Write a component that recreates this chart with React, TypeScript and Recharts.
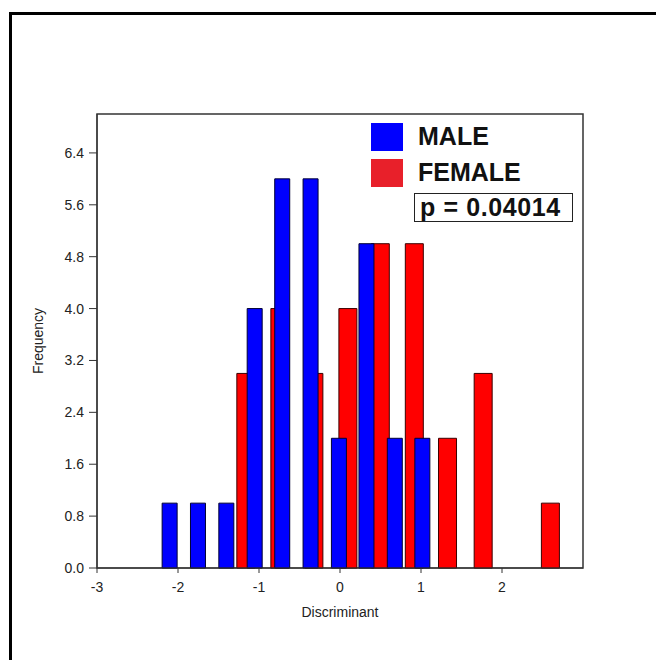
import React from 'react';
import { ComposedChart, Bar, XAxis, YAxis, Legend, ReferenceArea } from 'recharts';

// bin centres (Discriminant units)
const maleBins = [-2.1, -1.75, -1.4, -1.05, -0.71, -0.36, -0.01, 0.33, 0.68, 1.02];
const maleCounts = [1, 1, 1, 4, 6, 6, 2, 5, 2, 2];
const femaleBins = [-1.16, -0.74, -0.32, 0.1, 0.5, 0.92, 1.33, 1.77, 2.19, 2.6];
const femaleCounts = [3, 4, 3, 4, 5, 5, 2, 3, 0, 1];

const xTicks = [-3, -2, -1, 0, 1, 2];
const yTicks = [0, 0.8, 1.6, 2.4, 3.2, 4.0, 4.8, 5.6, 6.4];
const pValue = 'p = 0.04014';

const data = maleBins.map((mx, i) => ({
  mx,
  male: maleCounts[i],
  fx: femaleBins[i],
  female: femaleCounts[i],
}));

const FONT = '"Liberation Sans", Arial, sans-serif';
const AXIS = '#333';

const LegendBox = (props: any) => {
  const items = [...(props.payload || [])].sort((a: any) => (a.dataKey === 'male' ? -1 : 1));
  return (
    <div style={{ position: 'relative', width: 212, height: 104, fontFamily: FONT }}>
      {items.map((it: any, i: number) => (
        <div key={it.value} style={{ position: 'absolute', left: 0, top: i * 36, height: 29, display: 'flex', alignItems: 'center' }}>
          <span style={{ width: 32, height: 28, background: i === 0 ? '#0000ff' : '#e8202a', display: 'inline-block' }} />
          <span style={{ marginLeft: 15, fontSize: 25, fontWeight: 700, color: '#111' }}>{it.value}</span>
        </div>
      ))}
      <div
        style={{
          position: 'absolute',
          left: 43,
          top: 71,
          width: 152,
          height: 27,
          border: '1.5px solid #222',
          fontSize: 25,
          fontWeight: 700,
          letterSpacing: 0.6,
          lineHeight: '27px',
          paddingLeft: 5,
          color: '#111',
          whiteSpace: 'nowrap',
        }}
      >
        {pValue}
      </div>
    </div>
  );
};

const App: React.FC = () => {
  return (
    <div style={{ position: 'relative', width: 656, height: 660, overflow: 'hidden', background: '#fff' }}>
      <style>{'body{margin:0;overflow:hidden}'}</style>
      <div
        style={{
          position: 'absolute',
          left: 9,
          top: 12,
          width: 800,
          height: 800,
          borderLeft: '3px solid #000',
          borderTop: '3px solid #000',
        }}
      />
      <div style={{ position: 'absolute', left: 0, top: 0 }}>
        <ComposedChart width={656} height={660} data={data} margin={{ top: 114, right: 73, left: 0, bottom: 62 }}>
          <XAxis
            xAxisId="m"
            dataKey="mx"
            type="number"
            domain={[-3, 3]}
            ticks={xTicks}
            allowDataOverflow
            height={30}
            tickSize={5}
            tickMargin={9}
            stroke={AXIS}
            tick={{ fill: '#222', fontSize: 14, fontFamily: FONT }}
            label={{ value: 'Discriminant', position: 'bottom', offset: 9, fill: '#222', fontSize: 14, fontFamily: FONT }}
          />
          <XAxis xAxisId="f" dataKey="fx" type="number" domain={[-3, 3]} allowDataOverflow orientation="top" height={0} hide />
          <YAxis
            type="number"
            domain={[0, 7]}
            ticks={yTicks}
            width={97}
            tickSize={8}
            tickMargin={5}
            stroke={AXIS}
            tickFormatter={(v: number) => v.toFixed(1)}
            tick={{ fill: '#222', fontSize: 14, fontFamily: FONT }}
            label={{
              value: 'Frequency',
              angle: -90,
              position: 'insideLeft',
              offset: 38,
              fill: '#222',
              fontSize: 14,
              fontFamily: FONT,
              style: { textAnchor: 'middle' },
            }}
          />
          <ReferenceArea xAxisId="m" x1={-3} x2={3} y1={0} y2={7} fill="none" stroke={AXIS} strokeWidth={1.5} />
          <Bar xAxisId="f" dataKey="female" name="FEMALE" fill="#ff0000" stroke="#3a0000" strokeWidth={1} barSize={18} isAnimationActive={false} />
          <Bar xAxisId="m" dataKey="male" name="MALE" fill="#0000ff" stroke="#000033" strokeWidth={1} barSize={15} isAnimationActive={false} />
          <Legend
            layout="vertical"
            align="center"
            verticalAlign="middle"
            content={<LegendBox />}
            wrapperStyle={{ left: 371, top: 122, width: 212 }}
          />
        </ComposedChart>
      </div>
    </div>
  );
};

export default App;
